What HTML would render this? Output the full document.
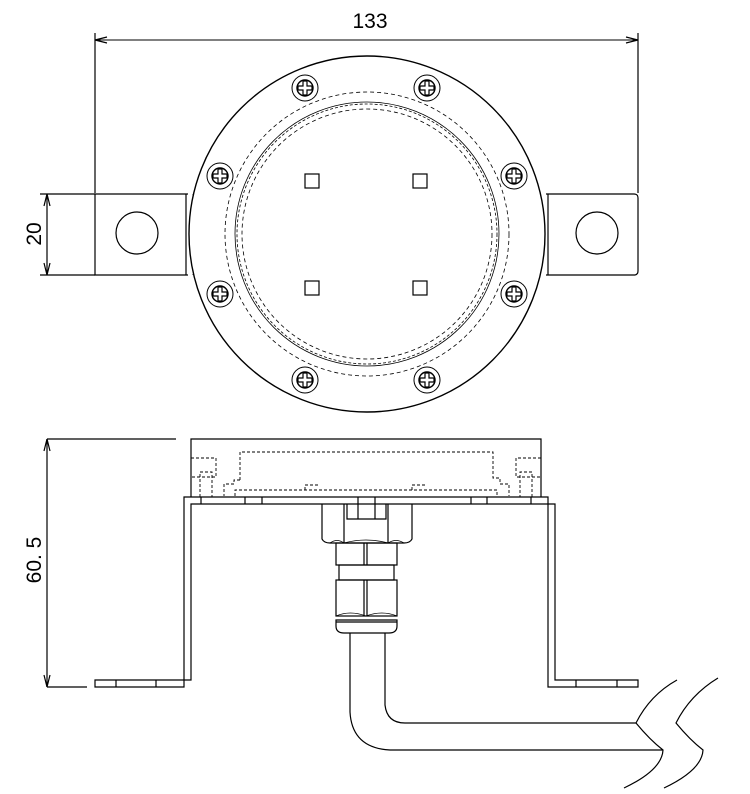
<!DOCTYPE html>
<html><head><style>
html,body{margin:0;padding:0;background:#fff;}
svg{display:block;}
text{font-family:"Liberation Sans",sans-serif;fill:#000;}
</style></head><body>
<svg width="750" height="794" viewBox="0 0 750 794" xmlns="http://www.w3.org/2000/svg" fill="none" stroke="#000" stroke-width="1.2">
<defs>
<g id="scr">
<circle r="13" stroke-width="1"/>
<circle r="8" stroke-width="1.4"/>
<path d="M-2,-7 L2,-7 L2,-2 L7,-2 L7,2 L2,2 L2,7 L-2,7 L-2,2 L-7,2 L-7,-2 L-2,-2 Z" stroke-width="1.2"/>
</g>
</defs>
<!-- dimension 133 -->
<line x1="95" y1="33" x2="95" y2="193"/>
<line x1="638" y1="33" x2="638" y2="193"/>
<line x1="95" y1="40" x2="638" y2="40" stroke-width="1"/>
<path d="M95,40 l12,-3 M95,40 l12,3 M638,40 l-12,-3 M638,40 l-12,3"/>
<text x="370" y="28" font-size="21" stroke="none" text-anchor="middle">133</text>
<!-- dimension 20 -->
<line x1="40" y1="194" x2="95" y2="194"/>
<line x1="40" y1="275" x2="95" y2="275"/>
<line x1="47" y1="194" x2="47" y2="275"/>
<path d="M47,194 l-3,12 M47,194 l3,12 M47,275 l-3,-12 M47,275 l3,-12"/>
<text x="0" y="0" font-size="21" stroke="none" text-anchor="middle" transform="translate(41,234) rotate(-90)">20</text>
<!-- tabs -->
<path d="M188,194 L95,194 L95,275 L188,275"/>
<line x1="186" y1="194" x2="186" y2="275"/>
<line x1="193" y1="194" x2="193" y2="275" stroke-dasharray="3,2" stroke-width="0.8"/>
<circle cx="137" cy="233" r="21"/>
<path d="M546,194 L634,194 Q638,194 638,198 L638,271 Q638,275 634,275 L546,275"/>
<line x1="548" y1="194" x2="548" y2="275"/>
<line x1="540" y1="194" x2="540" y2="275" stroke-dasharray="3,2" stroke-width="0.8"/>
<circle cx="597" cy="233" r="21"/>
<!-- flange -->
<circle cx="367" cy="234" r="178" fill="#fff" stroke-width="1.4"/>
<circle cx="367" cy="234" r="142" stroke-dasharray="4,3" stroke-width="0.8"/>
<circle cx="367" cy="234" r="132" stroke-width="0.8"/>
<circle cx="367" cy="234" r="130" stroke-dasharray="3,2" stroke-width="0.8"/>
<circle cx="367" cy="234" r="125" stroke-dasharray="4,3" stroke-width="0.8"/>
<use href="#scr" x="305" y="88"/><use href="#scr" x="427" y="88"/>
<use href="#scr" x="220" y="176"/><use href="#scr" x="514" y="176"/>
<use href="#scr" x="220" y="294"/><use href="#scr" x="514" y="294"/>
<use href="#scr" x="305" y="380"/><use href="#scr" x="427" y="380"/>
<rect x="305" y="174" width="14" height="14"/>
<rect x="413" y="174" width="14" height="14"/>
<rect x="305" y="281" width="14" height="14"/>
<rect x="413" y="281" width="14" height="14"/>
<!-- side view dims -->
<line x1="47" y1="439" x2="176" y2="439"/>
<line x1="47" y1="687" x2="87" y2="687"/>
<line x1="47" y1="439" x2="47" y2="687"/>
<path d="M47,439 l-3,12 M47,439 l3,12 M47,687 l-3,-12 M47,687 l3,-12"/>
<text x="0" y="0" font-size="21" stroke="none" text-anchor="middle" transform="translate(41,560) rotate(-90)">60. 5</text>
<!-- top box -->
<path d="M191,497 L191,439 L541,439 L541,497"/>
<g stroke-dasharray="3,2" stroke-width="0.9">
<path d="M240,480 L240,452 L493,452 L493,478 L500,478 L500,484 L509,484 L509,496"/>
<path d="M240,480 L234,480 L234,484 L224,484 L224,496"/>
<path d="M235,496 L235,490 L497,490 L497,496"/>
<path d="M305,490 L305,485 L320,485 M412,490 L412,485 L427,485"/>
<path d="M191,458 L216,458 L216,477 L191,477 M541,458 L516,458 L516,477 L541,477"/>
<path d="M200,497 L200,472 L212,472 L212,497 M532,497 L532,472 L520,472 L520,497"/>
</g>
<!-- bracket -->
<path d="M184,687 L184,497 L548,497 L548,687 L638,687 L638,680 L555,680 L555,504 L191,504 L191,680 L95,680 L95,687 Z"/>
<path d="M116,680 V687 M156,680 V687 M576,680 V687 M617,680 V687 M201,497 V504 M531,497 V504 M245,497 V504 M262,497 V504 M358,497 V504 M375,497 V504 M471,497 V504 M487,497 V504"/>
<!-- gland -->
<path d="M322,504 L322,539 Q324,543 330,543 L404,543 Q410,543 412,539 L412,504"/>
<path d="M344,504 L344,543 M388,504 L388,543"/>
<path d="M347,504 L347,519 L386,519 L386,504 M358,504 V519 M375,504 V519"/>
<path d="M330,543 Q337,538 344,543 Q366,537 388,543 Q396,538 404,543" stroke-width="0.8"/>
<rect x="336" y="543" width="61" height="22"/>
<line x1="364" y1="543" x2="364" y2="565"/><line x1="367" y1="543" x2="367" y2="565"/>
<rect x="339" y="565" width="55" height="15"/>
<rect x="336" y="580" width="61" height="36"/>
<line x1="364" y1="580" x2="364" y2="616"/><line x1="367" y1="580" x2="367" y2="616"/>
<path d="M336,616 Q350,610 366,616 Q382,610 397,616" stroke-width="0.8"/>
<path d="M336,620 L336,626 Q336,633 344,633 L389,633 Q397,633 397,626 L397,620 Z"/>
<line x1="336" y1="622" x2="397" y2="622"/>
<!-- cable -->
<path d="M350,633 L350,712 Q352,748 390,750 L663,750"/>
<path d="M385,633 L385,705 Q387,723 405,723 L636,723"/>
<path d="M677,680 Q650,695 636,723 Q650,740 663,750 Q662,770 624,788"/>
<path d="M718,678 Q690,695 676,723 Q690,740 703,750 Q702,770 664,788"/>
</svg>
</body></html>
